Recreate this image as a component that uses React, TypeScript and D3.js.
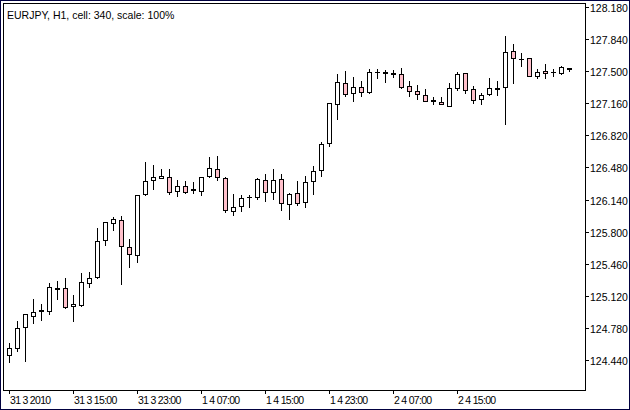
import React from "react";
import * as d3 from "d3";

const opens = [124.490,124.570,124.786,124.909,124.956,124.956,125.195,125.200,125.009,125.019,125.252,125.316,125.708,125.888,125.920,125.634,125.549,126.195,126.344,126.365,126.376,126.234,126.280,126.240,126.234,126.386,126.460,126.365,126.022,126.068,126.164,126.164,126.344,126.217,126.354,126.089,126.206,126.111,126.333,126.450,126.736,127.149,127.371,127.266,127.329,127.276,127.488,127.477,127.467,127.467,127.340,127.287,127.244,127.181,127.170,127.134,127.318,127.477,127.308,127.202,127.255,127.308,127.329,127.711,127.626,127.636,127.446,127.499,127.488,127.477,127.520];
const highs = [124.617,124.853,124.927,125.086,125.033,125.252,125.277,125.309,125.129,125.362,125.372,125.838,125.902,125.958,125.966,125.719,126.188,126.534,126.506,126.460,126.460,126.344,126.333,126.323,126.378,126.587,126.601,126.376,126.195,126.185,126.185,126.365,126.407,126.460,126.407,126.206,126.333,126.386,126.492,126.746,127.162,127.467,127.499,127.435,127.393,127.520,127.520,127.509,127.509,127.530,127.393,127.350,127.308,127.223,127.223,127.371,127.488,127.479,127.340,127.266,127.424,127.393,127.873,127.785,127.689,127.638,127.520,127.573,127.520,127.552,127.532];
const lows = [124.422,124.538,124.432,124.835,124.864,124.930,125.083,124.995,124.856,125.017,125.216,125.314,125.661,125.820,125.248,125.428,125.481,126.193,126.255,126.363,126.202,126.181,126.212,126.212,126.191,126.384,126.344,126.011,125.979,126.022,126.064,126.142,126.128,126.149,126.032,125.937,126.085,126.066,126.195,126.386,126.710,126.996,127.234,127.181,127.234,127.274,127.424,127.382,127.435,127.327,127.234,127.202,127.179,127.149,127.147,127.132,127.297,127.266,127.160,127.149,127.244,127.244,126.937,127.371,127.552,127.444,127.424,127.424,127.446,127.467,127.499];
const closes = [124.564,124.776,124.924,124.945,124.970,125.210,125.206,124.998,125.030,125.263,125.305,125.697,125.899,125.931,125.645,125.560,126.185,126.333,126.376,126.386,126.223,126.280,126.223,126.248,126.376,126.471,126.376,126.032,126.058,126.153,126.164,126.354,126.223,126.344,126.100,126.199,126.100,126.323,126.439,126.725,127.160,127.382,127.255,127.329,127.276,127.488,127.488,127.488,127.477,127.329,127.287,127.255,127.181,127.191,127.149,127.318,127.467,127.297,127.191,127.244,127.318,127.318,127.700,127.636,127.626,127.446,127.488,127.477,127.488,127.541,127.530];

const priceTicks = [124.44,124.78,125.12,125.46,125.80,126.14,126.48,126.82,127.16,127.50,127.84,128.18];
const timeTickBars = [0,8,16,24,32,40,48,56];
const timeTickLabels = ["31 3 2010","31 3 15:00","31 3 23:00","1 4 07:00","1 4 15:00","1 4 23:00","2 4 07:00","2 4 15:00"];
const title = "EURJPY, H1, cell: 340, scale: 100%";

const W = 630, H = 410;
const plotL = 3, plotT = 3, plotR = 585, plotB = 390;
const FONT = "'Liberation Sans', Arial, sans-serif";
const FS = 10.5;

export default function App() {
  const n = opens.length;
  const x = d3.scaleLinear().domain([0, n - 1]).range([9, 9 + 8 * (n - 1)]);
  const y = d3.scaleLinear().domain([124.44, 128.18]).range([360, 7]);
  const ry = (v: number) => Math.round(y(v));

  return (
    <svg width={W} height={H} style={{ position: "absolute", left: 0, top: 0, background: "#fff" }}
      shapeRendering="crispEdges">
      <rect x={0.5} y={0.5} width={W - 1} height={H - 1} fill="#fff" stroke="#000040" />
      <rect x={plotL + 0.5} y={plotT + 0.5} width={plotR - plotL} height={plotB - plotT} fill="#fff" stroke="#000" />
      <text x={7} y={19} fontFamily={FONT} fontSize={FS} fill="#000">{title}</text>
      {priceTicks.map((t) => {
        const yy = ry(t) + 0.5;
        return (
          <g key={t}>
            <line x1={plotR + 1} x2={plotR + 4} y1={yy} y2={yy} stroke="#000" />
            <text x={590} y={yy + 4} fontFamily={FONT} fontSize={FS} fill="#000">{t.toFixed(3)}</text>
          </g>
        );
      })}
      {timeTickBars.map((b, i) => {
        const xx = Math.round(x(b)) + 0.5;
        return (
          <g key={b}>
            <line x1={xx} x2={xx} y1={plotB + 1} y2={plotB + 4} stroke="#000" />
            <text x={xx + 0.5} y={404} fontFamily={FONT} fontSize={FS} letterSpacing={-0.7} fill="#000">{timeTickLabels[i]}</text>
          </g>
        );
      })}
      {opens.map((o, i) => {
        const cx = Math.round(x(i));
        const c = closes[i];
        const yo = ry(o), yc = ry(c), yh = ry(highs[i]), yl = ry(lows[i]);
        const top = Math.min(yo, yc), bot = Math.max(yo, yc);
        const bull = c >= o;
        return (
          <g key={i}>
            <line x1={cx + 0.5} x2={cx + 0.5} y1={yh} y2={yl + 1} stroke="#000" />
            {bot === top ? (
              <line x1={cx - 2} x2={cx + 3} y1={top + 0.5} y2={top + 0.5} stroke="#000" />
            ) : (
              <rect x={cx - 1.5} y={top + 0.5} width={4} height={bot - top}
                fill={bull ? "#fff" : "#ffc0cb"} stroke="#000" />
            )}
          </g>
        );
      })}
    </svg>
  );
}
